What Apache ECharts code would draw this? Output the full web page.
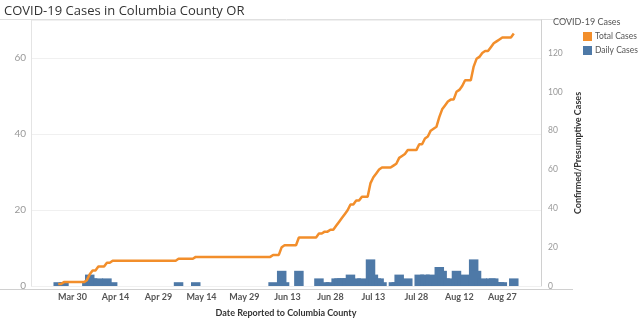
<!DOCTYPE html>
<html><head><meta charset="utf-8">
<script src="https://cdn.jsdelivr.net/npm/echarts@6/dist/echarts.min.js"></script>
<style>html,body{margin:0;padding:0;background:#fff}#c{width:640px;height:323px}</style>
</head><body><div id="c"></div>
<script>
// Axis date range (category axis, one category per day)
const axisStart = '2020-03-16';
const axisEnd = '2020-09-09';
// First day with data
const dataStart = '2020-03-25';

// Daily cases, Mar 25 .. Aug 31
const dailyCases = [
  1,0,1,0,0,
  0,0,0,0,0,1,3,2,0,2,
  0,0,2,0,1,0,0,0,0,0,
  0,0,0,0,0,0,0,0,0,0,
  0,0,0,0,0,0,0,1,0,0,
  0,0,0,1,0,0,0,0,0,0,
  0,0,0,0,0,0,0,0,0,0,
  0,0,0,0,0,0,0,0,0,0,
  1,0,0,4,1,0,0,0,0,4,
  0,0,0,0,0,0,2,0,1,0,
  1,0,2,2,2,2,2,3,0,2,
  0,2,0,0,7,3,2,2,1,0,
  0,0,1,1,3,1,1,2,0,0,
  0,3,0,3,1,3,1,1,5,4,
  2,2,1,0,4,1,2,3,0,0,
  7,4,1,2,1,0,2,2,1,1,
  1,0,0,0,2
];

// Total (cumulative) cases, Mar 25 .. Aug 31
const totalCases = [
  1,1,2,2,2,
  2,2,2,2,2,3,6,8,8,10,
  10,10,12,12,13,13,13,13,13,13,
  13,13,13,13,13,13,13,13,13,13,
  13,13,13,13,13,13,13,14,14,14,
  14,14,14,15,15,15,15,15,15,15,
  15,15,15,15,15,15,15,15,15,15,
  15,15,15,15,15,15,15,15,15,15,
  16,16,16,20,21,21,21,21,21,25,
  25,25,25,25,25,25,27,27,28,28,
  29,29,31,33,35,37,39,42,42,44,
  44,46,46,46,53,56,58,60,61,61,
  61,61,62,63,66,67,68,70,70,70,
  70,73,73,76,77,80,81,82,87,91,
  93,95,96,96,100,101,103,106,106,106,
  113,117,118,120,121,121,123,125,126,127,
  128,128,128,128,130
];

const tickLabels = ['Mar 30','Apr 14','Apr 29','May 14','May 29','Jun 13','Jun 28','Jul 13','Jul 28','Aug 12','Aug 27'];

const MONTHS = ['Jan','Feb','Mar','Apr','May','Jun','Jul','Aug','Sep','Oct','Nov','Dec'];
function fmt(d){ return MONTHS[d.getUTCMonth()] + ' ' + d.getUTCDate(); }
const categories = [];
let startIdx = 0;
{
  const s = new Date(axisStart + 'T00:00:00Z');
  const e = new Date(axisEnd + 'T00:00:00Z');
  const ds = new Date(dataStart + 'T00:00:00Z').getTime();
  for (let t = s.getTime(), i = 0; t <= e.getTime(); t += 86400000, i++) {
    if (t === ds) startIdx = i;
    categories.push(fmt(new Date(t)));
  }
}
function pad(arr){
  const out = new Array(categories.length).fill(null);
  arr.forEach((v,i)=>{ out[startIdx+i] = v; });
  return out;
}

const chart = echarts.init(document.getElementById('c'), null, {renderer:'canvas'});
const font = 'Lato, "Open Sans", sans-serif';
chart.setOption({
  animation: false,
  textStyle: {fontFamily: font},
  title: [
    {text: 'COVID-19 Cases in Columbia County OR', left: -1, top: 0,
     textStyle: {fontFamily: '"Open Sans", sans-serif', fontSize: 13, fontWeight: 'normal', color: '#333'}},
    {text: 'COVID-19 Cases', left: 553, top: 18, padding: 0,
     textStyle: {fontFamily: font, fontSize: 9, fontWeight: 'normal', color: '#555'}}
  ],
  legend: {
    data: ['Total Cases','Daily Cases'],
    orient: 'vertical', left: 583, top: 32, padding: 0,
    icon: 'rect', itemWidth: 9, itemHeight: 9, itemGap: 5,
    textStyle: {fontFamily: font, fontSize: 8.5, color: '#555', padding: [0,0,0,-2]}
  },
  grid: {left: 31, right: 99, top: 20, bottom: 34},
  graphic: [
    {type: 'line', shape: {x1: 0, y1: 19.5, x2: 573, y2: 19.5}, style: {stroke: '#e0e0e0', lineWidth: 1}, z: 0},
    {type: 'line', shape: {x1: 0, y1: 289.5, x2: 573, y2: 289.5}, style: {stroke: '#d0d0d0', lineWidth: 1}, z: 0}
  ],
  xAxis: {
    type: 'category', data: categories, boundaryGap: true,
    axisLine: {show: false}, axisTick: {show: false},
    axisLabel: {
      interval: function(idx, val){ return tickLabels.indexOf(val) >= 0; },
      color: '#555', fontSize: 9, fontWeight: 'bold', margin: 7, fontFamily: font
    },
    name: 'Date Reported to Columbia County', nameLocation: 'middle', nameGap: 23,
    nameTextStyle: {color: '#333', fontSize: 9, fontWeight: 'bold', fontFamily: font}
  },
  yAxis: [
    {type: 'value', min: 0, max: 70, interval: 20, position: 'left',
     axisLine: {show: true, lineStyle: {color: '#e4e4e4'}}, axisTick: {show: false},
     axisLabel: {color: '#999', fontSize: 10, margin: 5, showMaxLabel: false, fontFamily: font},
     splitLine: {show: true, lineStyle: {color: '#f0f0f0'}}},
    {type: 'value', min: 0, max: 137, interval: 20, position: 'right',
     axisLine: {show: true, lineStyle: {color: '#d0d0d0'}}, axisTick: {show: false},
     axisLabel: {color: '#999', fontSize: 8.5, margin: 7, showMaxLabel: false, fontFamily: font},
     splitLine: {show: false},
     name: 'Confirmed/Presumptive Cases', nameLocation: 'middle', nameRotate: 90, nameGap: 28,
     nameTextStyle: {color: '#333', fontSize: 9, fontWeight: 'bold', fontFamily: font}}
  ],
  series: [
    {name: 'Daily Cases', type: 'bar', yAxisIndex: 0, data: pad(dailyCases),
     barWidth: 9.5, itemStyle: {color: '#4e79a7'}, z: 2},
    {name: 'Total Cases', type: 'line', yAxisIndex: 1, data: pad(totalCases),
     showSymbol: false, symbol: 'none', lineStyle: {color: '#f28e2b', width: 2.5}, itemStyle: {color: '#f28e2b'}, z: 3}
  ]
});
</script></body></html>
